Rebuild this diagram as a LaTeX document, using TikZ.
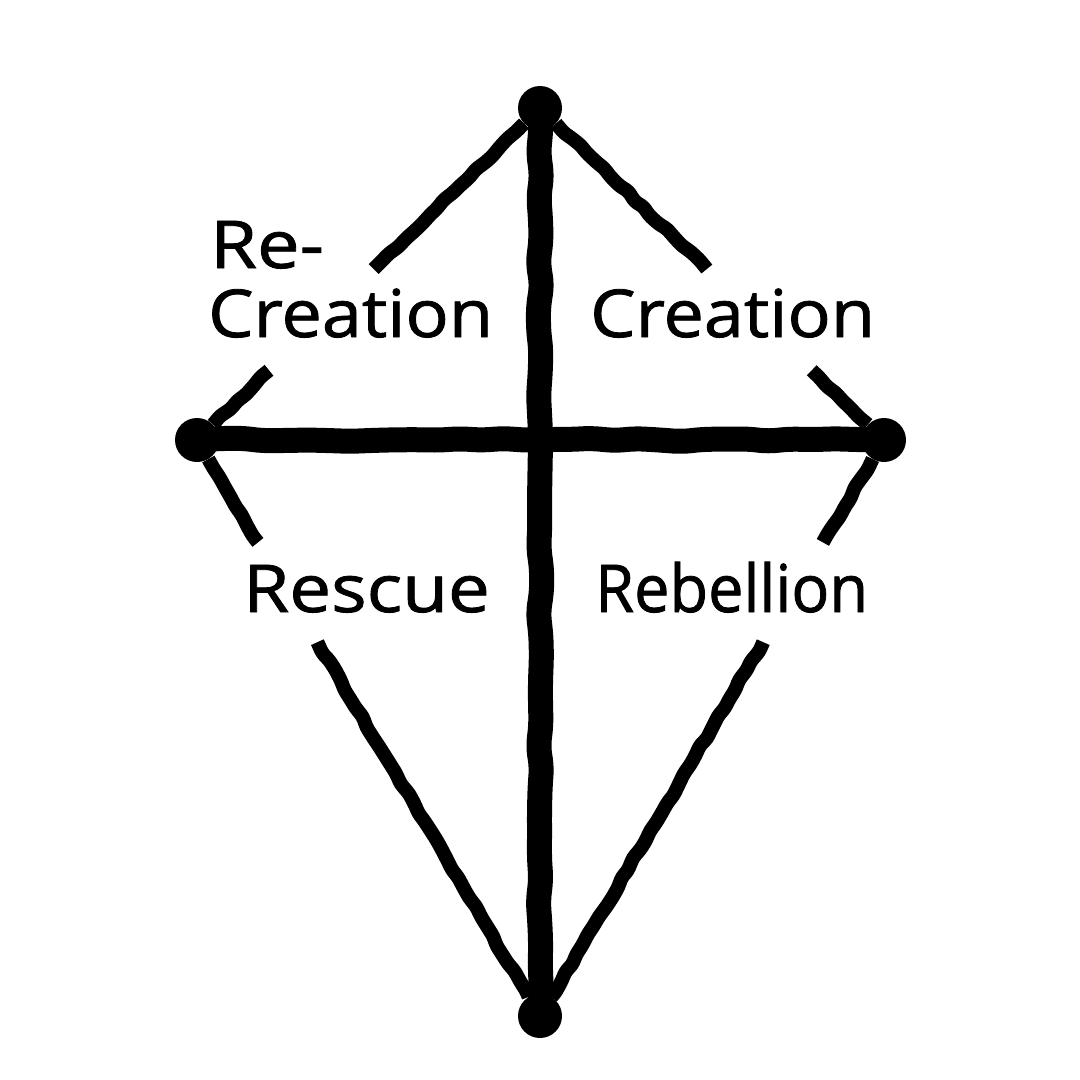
\documentclass[tikz,border=0pt]{standalone}
\usepackage{fontspec}
\setmainfont{Open Sans}
\newfontfamily\labfont[FakeBold=1.2]{Open Sans}
\usetikzlibrary{decorations.pathmorphing,calc}
\begin{document}
\begin{tikzpicture}[x=1pt,y=-1pt,
  spine/.style={line width=25pt, line cap=round, line join=round, rounded corners=8pt, decorate,
    decoration={random steps, segment length=22pt, amplitude=1.8pt}},
  strut/.style={line width=14pt, line join=round, rounded corners=3pt, decorate,
    decoration={random steps, segment length=11pt, amplitude=1.4pt}},
  tip/.style={circle, fill=black, inner sep=0pt, minimum size=44pt},
  lab/.style={font=\labfont\fontsize{66}{80}\selectfont, inner sep=0pt, anchor=base west}]
\pgfmathsetseed{7}
\useasboundingbox[fill=white] (0,0) rectangle (1080,1080);
% end points
\node[tip] (top) at (540,108) {};
\node[tip] (bottom) at (540,1016) {};
\node[tip] (left) at (197,440) {};
\node[tip] (right) at (884,440) {};
% gap coordinates on the diagonals
\coordinate (tl1) at ($(top.center)!0.485!(left.center)$);
\coordinate (tl2) at ($(top.center)!0.79!(left.center)$);
\coordinate (tr1) at ($(top.center)!0.485!(right.center)$);
\coordinate (tr2) at ($(top.center)!0.79!(right.center)$);
\coordinate (bl1) at ($(left.center)!0.178!(bottom.center)$);
\coordinate (bl2) at ($(left.center)!0.351!(bottom.center)$);
\coordinate (br1) at ($(right.center)!0.178!(bottom.center)$);
\coordinate (br2) at ($(right.center)!0.351!(bottom.center)$);
% diagonals
\draw[strut] (top) -- (tl1);
\draw[strut] (tl2) -- (left);
\draw[strut] (top) -- (tr1);
\draw[strut] (tr2) -- (right);
\draw[strut] (left) -- (bl1);
\draw[strut] (bl2) -- (bottom);
\draw[strut] (right) -- (br1);
\draw[strut] (br2) -- (bottom);
% cross
\draw[spine] (top.center) -- (bottom.center);
\draw[spine] (left.center) -- (right.center);
% labels
\node[lab] (re) at (210,268) {\scalebox{1.15}[1]{Re-}};
\node[lab] (crl) at (208,337) {\scalebox{1.09}[1]{Creation}};
\node[lab] (crr) at (590,337) {\scalebox{1.09}[1]{Creation}};
\node[lab] (res) at (243,612) {\scalebox{1.13}[1]{Rescue}};
\node[lab] (reb) at (595,612) {\scalebox{0.955}[1]{Rebellion}};
\end{tikzpicture}
\end{document}
